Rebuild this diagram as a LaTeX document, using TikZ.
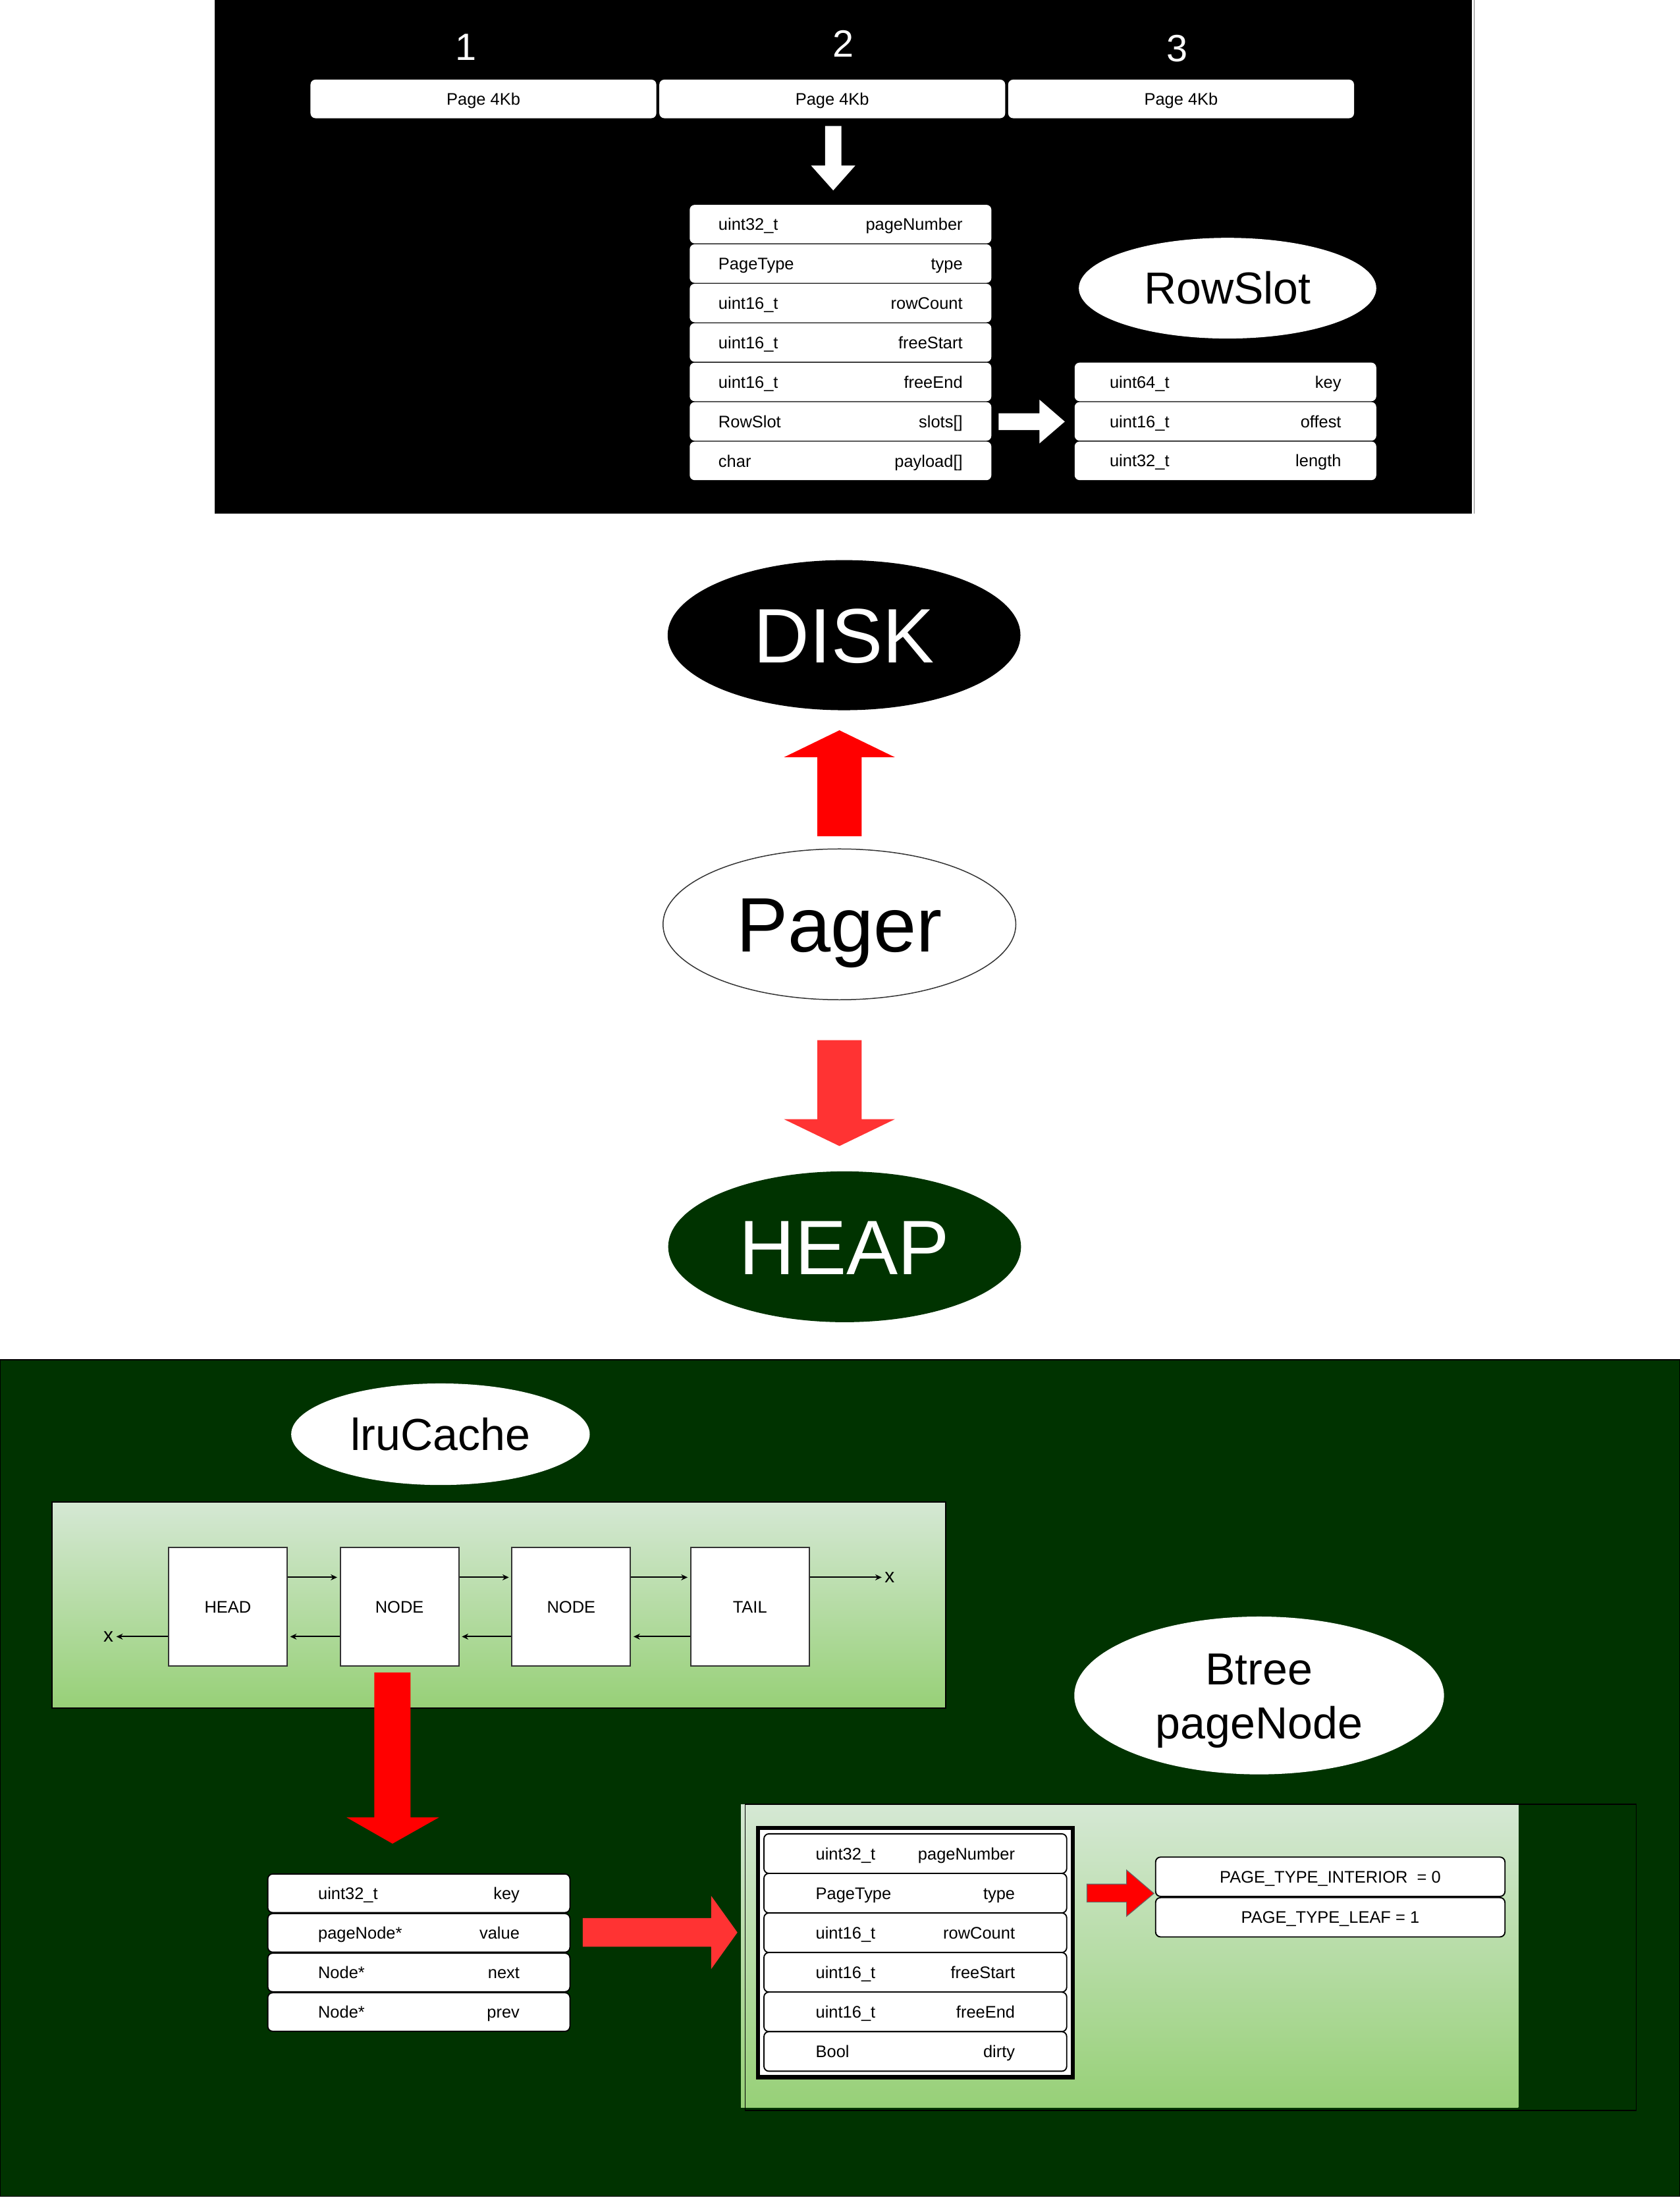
\documentclass[tikz,border=0pt]{standalone}
\usepackage{fontspec}
\setmainfont{Liberation Sans}
\usetikzlibrary{shapes.geometric,arrows.meta,positioning}

\definecolor{heapgreen}{HTML}{003300}
\definecolor{gradtop}{HTML}{D5E8D4}
\definecolor{gradbot}{HTML}{97D077}
\definecolor{lightred}{HTML}{FF3333}

\newcommand\fsField{\fontsize{6.8}{8.2}\selectfont}
\newcommand\fsNum{\fontsize{15.4}{18.5}\selectfont}
\newcommand\fsTitle{\fontsize{18.2}{22.4}\selectfont}
\newcommand\fsBig{\fontsize{31.3}{37.6}\selectfont}
\newcommand\fsX{\fontsize{8}{9.6}\selectfont}

\tikzset{
  txt/.style={inner sep=0pt, font=\fsField, text height=4.9pt, text depth=0pt},
  numtxt/.style={inner sep=0pt, font=\fsNum, text=white, text height=11pt, text depth=0pt},
  field/.style={fill=white, rounded corners=2pt, inner sep=0pt, minimum width=4.3cm, minimum height=0.55cm},
  pagebox/.style={field, minimum width=4.93cm, font=\fsField, text height=4.9pt, text depth=0pt},
  blob/.style={ellipse, inner sep=0pt},
  bigtxt/.style={font=\fsBig, text height=22.4pt, text depth=0pt},
  titletxt/.style={font=\fsTitle, text height=13pt, text depth=0pt},
  cell/.style={draw=black!80, fill=white, line width=0.5pt, inner sep=0pt, minimum width=1.69cm, minimum height=1.69cm, font=\fsField, text height=4.9pt, text depth=0pt},
  link/.style={-{Stealth[length=2.6pt,width=2.4pt]}, line width=0.5pt, shorten >=1pt},
  xlbl/.style={inner sep=0pt, font=\fsX},
  enumbox/.style={field, draw=black, line width=0.5pt, minimum width=4.98cm, minimum height=0.56cm, font=\fsField, text height=4.9pt, text depth=0pt},
}

\begin{document}
\begin{tikzpicture}[x=0.02cm, y=-0.02cm]
\useasboundingbox (0,0) rectangle (1197,1568);

% page file on disk
\fill[black] (153,0) rectangle (1048.9,366.3);
\draw[gray, line width=0.4pt] (1050.6,0) -- (1050.6,366.3);

\foreach \x/\y [count=\i] in {332.2/33.5, 601/31.1, 838.9/34.2}
  \node[numtxt] (num\i) at (\x,\y) {\i};
\foreach \i in {1,2,3}
  \node[pagebox] (page\i) at ({344.5+248.6*(\i-1)},70.5) {Page 4Kb};

\fill[white] (588,89.8) -- (599.6,89.8) -- (599.6,118) -- (609.5,118) -- (593.8,135.7) -- (578,118) -- (588,118) -- cycle;   % ie page2 -> header

\foreach \ty/\nm [count=\i] in {uint32\_t/pageNumber, PageType/type, uint16\_t/rowCount, uint16\_t/freeStart, uint16\_t/freeEnd, RowSlot/{slots[]}, char/{payload[]}}{
  \node[field] (hdr\i) at (599,{159.75+28.12*(\i-1)}) {};
  \node[txt, anchor=west] (hdrt\i) at ([xshift=0.41cm]hdr\i.west) {\ty};
  \node[txt, anchor=east] (hdrn\i) at ([xshift=-0.41cm]hdr\i.east) {\nm};
}

\node[blob, fill=white, minimum width=4.24cm, minimum height=1.436cm, titletxt] (rowslot) at (874.8,205.4) {RowSlot};

\fill[white] (711.6,294.5) -- (740.8,294.5) -- (740.8,284.9) -- (758.8,300.5) -- (740.8,316) -- (740.8,306.5) -- (711.6,306.5) -- cycle;   % ie slots[] -> RowSlot

\foreach \ty/\nm [count=\i] in {uint64\_t/key, uint16\_t/offest, uint32\_t/length}{
  \node[field] (slot\i) at (873.3,{272.2+28.12*(\i-1)}) {};
  \node[txt, anchor=west] (slott\i) at ([xshift=0.5cm]slot\i.west) {\ty};
  \node[txt, anchor=east] (slotn\i) at ([xshift=-0.5cm]slot\i.east) {\nm};
}

% disk / pager / heap
\node[blob, fill=black, text=white, minimum width=5.03cm, minimum height=2.14cm, bigtxt] (disk) at (601.5,452.7) {DISK};
\node[blob, fill=white, draw=black!80, line width=0.4pt, minimum width=5.03cm, minimum height=2.15cm, bigtxt] (pager) at (598.2,658.8) {Pager};
\node[blob, fill=heapgreen, text=white, minimum width=5.03cm, minimum height=2.15cm, bigtxt] (heap) at (601.9,888.6) {HEAP};

\fill[red] (582.5,596) -- (582.5,539.7) -- (558.7,539.7) -- (598.2,520.5) -- (637.7,539.7) -- (614,539.7) -- (614,596) -- cycle;
\fill[lightred] (582.5,741.4) -- (614,741.4) -- (614,797.7) -- (637.7,797.7) -- (598.2,816.8) -- (558.7,797.7) -- (582.5,797.7) -- cycle;

% heap
\fill[heapgreen, draw=black] (0,969.1) rectangle (1197,1565.5);

\node[blob, fill=white, minimum width=4.256cm, minimum height=1.448cm, titletxt] (lru) at (313.9,1022.2) {lruCache};

\shade[top color=gradtop, bottom color=gradbot, draw=black, line width=0.6pt] (37,1070.6) rectangle (674,1217.5);

\node[cell] (head) at (162.35,1145.2) {HEAD};
\node[cell, right=0.74cm of head] (nodeA) {NODE};
\node[cell, right=0.74cm of nodeA] (nodeB) {NODE};
\node[cell, right=0.84cm of nodeB] (tail) {TAIL};

\draw[link] ([yshift=0.42cm]head.east) -- ([yshift=0.42cm]nodeA.west);
\draw[link] ([yshift=0.42cm]nodeA.east) -- ([yshift=0.42cm]nodeB.west);
\draw[link] ([yshift=0.42cm]nodeB.east) -- ([yshift=0.42cm]tail.west);
\draw[link] ([yshift=-0.425cm]nodeA.west) -- ([yshift=-0.425cm]head.east);
\draw[link] ([yshift=-0.425cm]nodeB.west) -- ([yshift=-0.425cm]nodeA.east);
\draw[link] ([yshift=-0.425cm]tail.west) -- ([yshift=-0.425cm]nodeB.east);

\node[xlbl, anchor=west] (xr) at ([xshift=1.06cm,yshift=0.42cm]tail.east) {x};
\node[xlbl, anchor=east] (xl) at ([xshift=-0.77cm,yshift=-0.425cm]head.west) {x};
\draw[link] ([yshift=0.42cm]tail.east) -- (xr.west);
\draw[link] ([yshift=-0.425cm]head.west) -- (xl.east);

\fill[red] (266.7,1192) -- (292.6,1192) -- (292.6,1295.2) -- (313,1295.2) -- (279.7,1314) -- (246.8,1295.2) -- (266.7,1295.2) -- cycle;   % ie NODE -> struct

\foreach \ty/\nm [count=\i] in {uint32\_t/key, pageNode*/value, Node*/next, Node*/prev}{
  \node[field, draw=black, line width=0.5pt, minimum width=4.308cm] (nd\i) at (298.5,{1349.4+28.2*(\i-1)}) {};
  \node[txt, anchor=west] (ndt\i) at ([xshift=0.72cm]nd\i.west) {\ty};
  \node[txt, anchor=east] (ndn\i) at ([xshift=-0.72cm]nd\i.east) {\nm};
}

\fill[lightred] (415.3,1367.1) -- (506.8,1367.1) -- (506.8,1351.2) -- (525.5,1377.3) -- (506.8,1403.4) -- (506.8,1387.5) -- (415.3,1387.5) -- cycle;   % ie value -> pageNode

% btree page node
\node[blob, fill=white, minimum width=5.27cm, minimum height=2.25cm] (btree) at (897.3,1208.4) {};
\node[font=\fsTitle, align=center, inner sep=0pt] (btreetxt) at ([yshift=-0.08cm]btree.center) {Btree\\[-0.5pt]pageNode};

\shade[top color=gradtop, bottom color=gradbot] (528,1286) rectangle (1082,1502);
\draw[black, line width=0.5pt] (531,1286) rectangle (1166,1504);

\draw[line width=1.7pt, fill=white] (540.3,1302.7) rectangle (764.4,1480.4);
\foreach \ty/\nm [count=\i] in {uint32\_t/pageNumber, PageType/type, uint16\_t/rowCount, uint16\_t/freeStart, uint16\_t/freeEnd, Bool/dirty}{
  \node[field, draw=black, line width=0.5pt, minimum width=4.316cm, minimum height=0.564cm] (bt\i) at (652.3,{1321.1+28.2*(\i-1)}) {};
  \node[txt, anchor=west] (btt\i) at ([xshift=0.74cm]bt\i.west) {\ty};
  \node[txt, anchor=east] (btn\i) at ([xshift=-0.74cm]bt\i.east) {\nm};
}

\fill[red, draw=black!60, line width=0.3pt] (774.6,1342.8) -- (802.8,1342.8) -- (802.8,1332.8) -- (822.3,1349.5) -- (802.8,1365.8) -- (802.8,1355.7) -- (774.6,1355.7) -- cycle;   % ie type -> PageType

\node[enumbox] (ptint) at (948,1337.6) {PAGE\_TYPE\_INTERIOR\ \ = 0};
\node[enumbox, below=0pt of ptint] (ptleaf) {PAGE\_TYPE\_LEAF = 1};

\end{tikzpicture}
\end{document}
